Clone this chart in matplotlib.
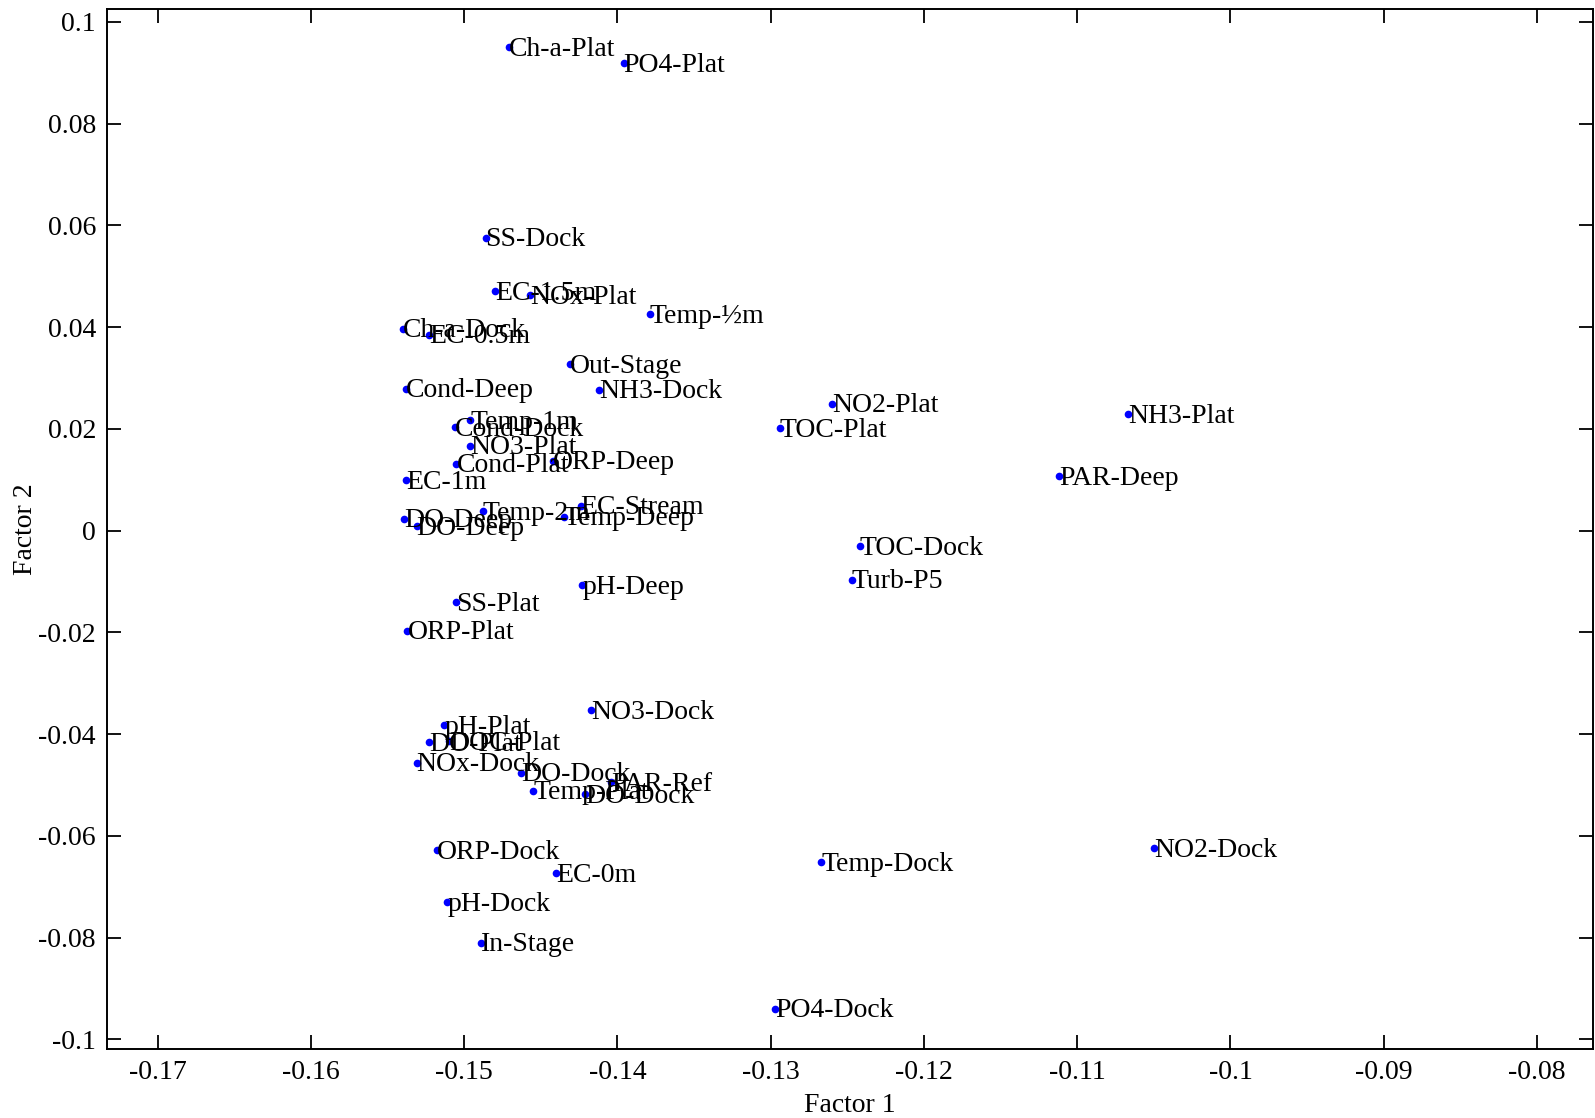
import matplotlib
matplotlib.use("Agg")
import matplotlib.pyplot as plt
from matplotlib.ticker import FuncFormatter, MultipleLocator

plt.rcParams["font.family"] = ["Liberation Serif", "DejaVu Serif"]
plt.rcParams["axes.unicode_minus"] = False

# Variable loadings on the first two factors
labels = [
    "Ch-a-Plat", "PO4-Plat", "SS-Dock", "EC-1.5m", "NOx-Plat", "Temp-½m",
    "Ch-a-Dock", "EC-0.5m", "Out-Stage", "NH3-Dock", "Cond-Deep", "NO2-Plat",
    "NH3-Plat", "Temp-1m", "Cond-Dock", "TOC-Plat", "NO3-Plat", "ORP-Deep",
    "Cond-Plat", "PAR-Deep", "EC-1m", "Temp-2m", "EC-Stream", "Temp-Deep",
    "DO-Deep", "DO-Deep", "TOC-Dock", "pH-Deep", "Turb-P5", "SS-Plat",
    "ORP-Plat", "NO3-Dock", "pH-Plat", "DO-Plat", "DOC-Plat", "NOx-Dock",
    "DO-Dock", "Temp-Plat", "PAR-Ref", "DO-Dock", "ORP-Dock", "NO2-Dock",
    "Temp-Dock", "EC-0m", "pH-Dock", "In-Stage", "PO4-Dock",
]
factor1 = [
    -0.1471, -0.1396, -0.1486, -0.1480, -0.1457, -0.1379,
    -0.1540, -0.1523, -0.1431, -0.1412, -0.1538, -0.1260,
    -0.1067, -0.1496, -0.1506, -0.1294, -0.1496, -0.1442,
    -0.1505, -0.1112, -0.1538, -0.1488, -0.1424, -0.1435,
    -0.1539, -0.1531, -0.1242, -0.1423, -0.1247, -0.1505,
    -0.1537, -0.1417, -0.1513, -0.1523, -0.1510, -0.1531,
    -0.1463, -0.1455, -0.1404, -0.1421, -0.1518, -0.1050,
    -0.1267, -0.1440, -0.1511, -0.1489, -0.1297,
]
factor2 = [
    0.0950, 0.0918, 0.0576, 0.0471, 0.0463, 0.0425,
    0.0397, 0.0385, 0.0327, 0.0277, 0.0279, 0.0249,
    0.0229, 0.0217, 0.0203, 0.0201, 0.0167, 0.0137,
    0.0131, 0.0107, 0.0099, 0.0038, 0.0049, 0.0027,
    0.0023, 0.0009, -0.0031, -0.0107, -0.0097, -0.0141,
    -0.0197, -0.0353, -0.0383, -0.0416, -0.0414, -0.0456,
    -0.0476, -0.0511, -0.0495, -0.0518, -0.0628, -0.0624,
    -0.0652, -0.0674, -0.0730, -0.0810, -0.0940,
]

FS = 20

fig = plt.figure(figsize=(15.95, 11.18), dpi=100)
ax = fig.add_axes([0.0671, 0.0617, 0.9316, 0.9302])

ax.plot(factor1, factor2, "o", color="#0000ff", markersize=5.5, markeredgewidth=0)
for x, y, t in zip(factor1, factor2, labels):
    ax.annotate(t, (x, y), xytext=(0, -1.5), textcoords="offset points",
                ha="left", va="center", fontsize=FS, color="black")

ax.set_xlim(-0.1733, -0.07635)
ax.set_ylim(-0.1019, 0.1025)
ax.xaxis.set_major_locator(MultipleLocator(0.01))
ax.yaxis.set_major_locator(MultipleLocator(0.02))


def fmt(v, pos):
    s = f"{v:.2f}".rstrip("0").rstrip(".")
    if s in ("-0", "0"):
        return "0"
    return s


ax.xaxis.set_major_formatter(FuncFormatter(fmt))
ax.yaxis.set_major_formatter(FuncFormatter(fmt))

ax.tick_params(axis="both", which="major", direction="in", length=10, width=1.3,
               top=True, right=True, labelsize=FS, pad=8)
for sp in ax.spines.values():
    sp.set_linewidth(1.4)

ax.set_xlabel("Factor 1", fontsize=FS, labelpad=6)
ax.set_ylabel("Factor 2", fontsize=FS, labelpad=0.5)

fig.savefig("out.png", dpi=100)
